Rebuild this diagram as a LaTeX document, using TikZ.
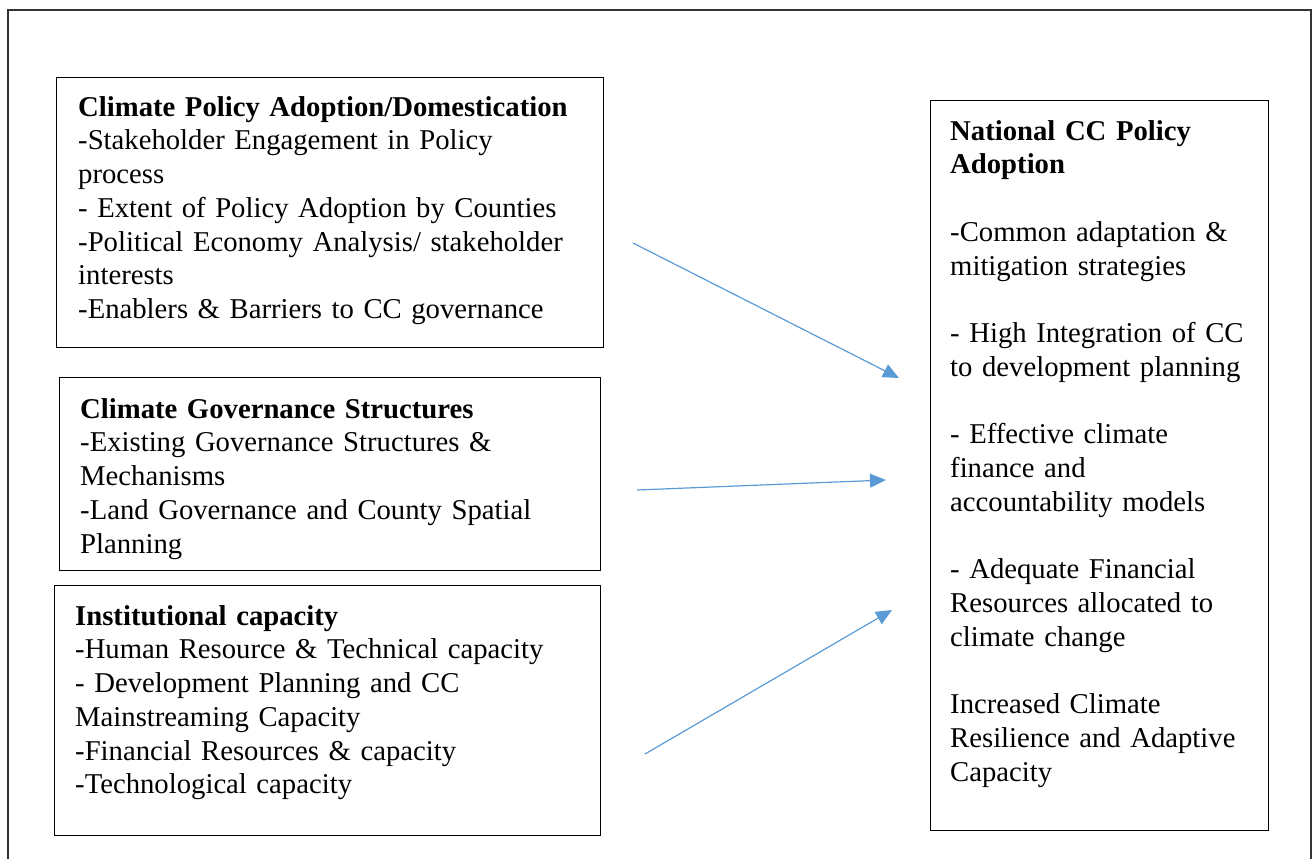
\documentclass[tikz,border=0pt]{standalone}
\usepackage{fontspec}
\setmainfont{Liberation Serif}
\usetikzlibrary{arrows.meta}
\definecolor{arrowblue}{HTML}{5B9BD5}

\begin{document}
\begin{tikzpicture}[x=1pt,y=-1pt,
  outerframe/.style={draw=black!80, line width=1.3pt},
  box/.style={draw=black, line width=1.4pt, inner sep=0pt, anchor=north west},
  txt/.style={anchor=north west, inner sep=0pt, align=left,
              font=\fontsize{28.7}{33.75}\selectfont},
  link/.style={draw=arrowblue, line width=1.2pt,
               -{Triangle[length=16pt,width=14pt]}}]
\useasboundingbox (0,0) rectangle (1314,859);

% page frame, running off the bottom edge
\begin{scope}
  \clip (0,0) rectangle (1314,859);
  \draw[outerframe] (8,10) rectangle (1311,890);
\end{scope}

% boxes
\node[box, minimum width=547pt, minimum height=270pt] (b1) at (56,77) {};
\node[box, minimum width=541pt, minimum height=193pt] (b2) at (59,377) {};
\node[box, minimum width=546pt, minimum height=250pt] (b3) at (54,585) {};
\node[box, minimum width=338pt, minimum height=730pt] (b4) at (930,100) {};

% box texts (first baseline 24pt below the node top)
\node[txt, text width=540pt] (t1) at (78,92) {\rule{0pt}{24pt}\textbf{Climate Policy Adoption/Domestication}\\
-Stakeholder Engagement in Policy\\
process\\
- Extent of Policy Adoption by Counties\\
-Political Economy Analysis/ stakeholder\\
interests\\
-Enablers \& Barriers to CC governance};

\node[txt, text width=530pt] (t2) at (80,394) {\rule{0pt}{24pt}\textbf{Climate Governance Structures}\\
-Existing Governance Structures \&\\
Mechanisms\\
-Land Governance and County Spatial\\
Planning};

\node[txt, text width=530pt] (t3) at (75,601) {\rule{0pt}{24pt}\textbf{Institutional capacity}\\
-Human Resource \& Technical capacity\\
- Development Planning and CC\\
Mainstreaming Capacity\\
-Financial Resources \& capacity\\
-Technological capacity};

\node[txt, text width=330pt] (t4) at (950,116) {\rule{0pt}{24pt}\textbf{National CC Policy}\\
\textbf{Adoption}\\[33.75pt]
-Common adaptation \&\\
mitigation strategies\\[33.75pt]
- High Integration of CC\\
to development planning\\[33.75pt]
- Effective climate\\
finance and\\
accountability models\\[33.75pt]
- Adequate Financial\\
Resources allocated to\\
climate change\\[33.75pt]
Increased Climate\\
Resilience and Adaptive\\
Capacity};

% connectors
\coordinate (s1) at (633,243);
\coordinate (e1) at (899,378);
\coordinate (s2) at (637,490);
\coordinate (e2) at (886,480);
\coordinate (s3) at (645,754);
\coordinate (e3) at (892,610);
\draw[link] (s1) -- (e1);
\draw[link] (s2) -- (e2);
\draw[link] (s3) -- (e3);
\end{tikzpicture}
\end{document}
